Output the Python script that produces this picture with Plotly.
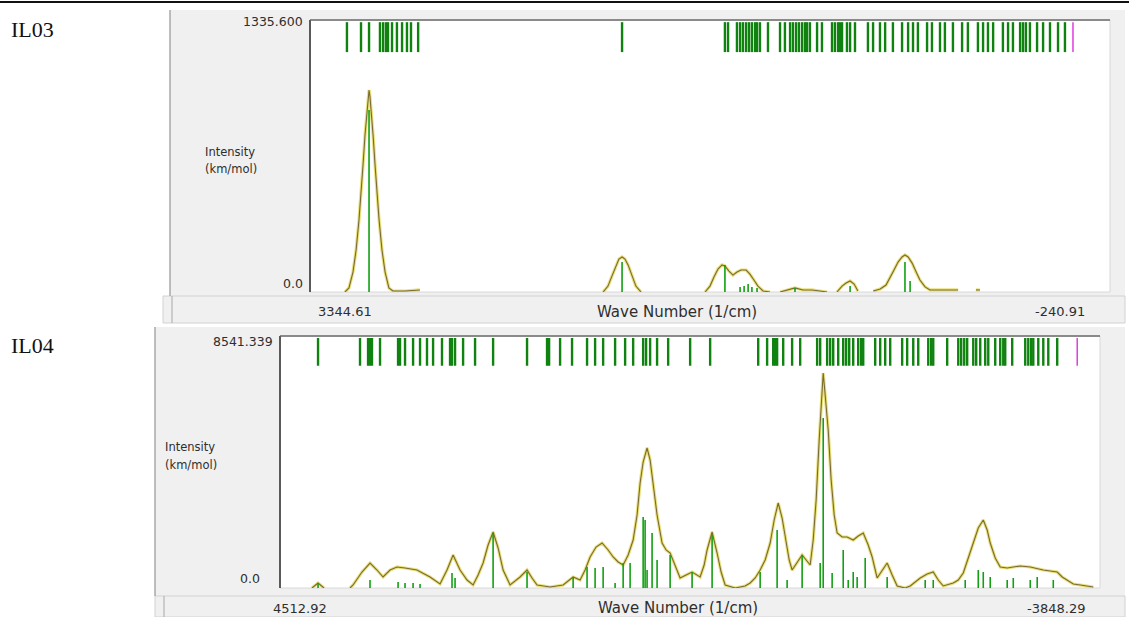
import plotly.graph_objects as go

W, H = 1129, 617

# ---------------- IL03 data ----------------
il03_x_range = [3344.61, -240.91]
il03_y_max = 1335.600
il03_modes = [3179, 3116, 3080, 3031, 3017, 3004, 2995, 2977, 2955, 2932, 2910, 2892, 2860,
              1946, 1485, 1471, 1431, 1417, 1404, 1390, 1377, 1364, 1350, 1341, 1328, 1292,
              1238, 1216, 1193, 1180, 1166, 1153, 1139, 1126, 1117, 1104, 1072, 1050, 1005,
              992, 978, 969, 960, 938, 924, 902, 844, 821, 790, 767, 732, 691, 664, 642, 620,
              579, 557, 521, 499, 463, 422, 396, 351, 328, 306, 283, 239, 216, 194, 162, 149,
              136, 118, 86, 59, 28, -8, -39]
il03_marker = [-75]
il03_stick_wn = [3080, 1946, 1485, 1417, 1399, 1381, 1364, 1341, 1171, 924, 678, 655]
il03_stick_int = [894, 147, 133, 25, 29, 39, 25, 20, 20, 29, 147, 54]
il03_curve_wn = [3188, 3170, 3152, 3138, 3125, 3116, 3107, 3098, 3089, 3085, 3080, 3076, 3071,
                 3062, 3053, 3044, 3035, 3022, 3008, 2991, 2973, 2919, 2852, None,
                 2031, 2009, 1991, 1973, 1960, 1946, 1933, 1919, 1901, 1884, 1861, None,
                 1574, 1552, 1534, 1516, 1498, 1485, 1467, 1449, 1431, 1413, 1390, 1373, 1355,
                 1337, 1314, 1283, None,
                 1238, 1207, 1171, 1135, 1095, 1059, 1027, None,
                 983, 960, 942, 924, 906, 889, None,
                 820, 789, 763, 745, 727, 709, 691, 678, 664, 646, 629, 611, 588, 566, 521, 440, None,
                 360, 342]
il03_curve_int = [0, 20, 98, 206, 354, 476, 624, 771, 903, 962, 992, 962, 903,
                  771, 624, 476, 354, 206, 98, 20, 5, 5, 10, None,
                  0, 29, 79, 133, 162, 172, 162, 133, 79, 29, 0, None,
                  0, 29, 74, 113, 133, 128, 103, 83, 98, 108, 108, 88, 59,
                  29, 5, 0, None,
                  0, 10, 20, 10, 10, 5, 0, None,
                  0, 29, 44, 54, 39, 5, None,
                  5, 15, 34, 69, 108, 147, 172, 182, 172, 142, 98, 59, 25, 10, 10, 10, None,
                  10, 10]

# ---------------- IL04 data ----------------
il04_x_range = [4512.92, -3848.29]
il04_y_max = 8541.339
il04_modes = [4125, 3697, 3615, 3595, 3575, 3493, 3309, 3289, 3238, 3156, 3085, 3014, 2952,
              2861, 2779, 2759, 2728, 2646, 2524, 2340, 1994, 1790, 1769, 1657, 1535, 1382,
              1300, 1218, 1096, 994, 912, 810, 780, 739, 668, 555, 331, 127, -363, -454, -516,
              -536, -556, -618, -709, -791, -964, -995, -1066, -1097, -1128, -1179, -1230,
              -1260, -1291, -1332, -1383, -1413, -1434, -1556, -1607, -1658, -1709, -1831,
              -1882, -1944, -1995, -2097, -2127, -2148, -2290, -2403, -2433, -2464, -2494,
              -2556, -2586, -2627, -2678, -2709, -2780, -2831, -2862, -2882, -2953, -3086,
              -3117, -3147, -3168, -3219, -3270, -3321, -3412]
il04_marker = [-3616]
il04_stick_wn = [4125, 3595, 3309, 3238, 3156, 3085, 2759, 2728, 2340, 1994, 1524, 1382, 1300,
                 1218, 1096, 1014, 943, 810, 790, 770, 719, 668, 535, 311, 107, -383, -556,
                 -658, -811, -995, -1026, -1117, -1230, -1281, -1332, -1372, -1454, -1678,
                 -2066, -2148, -2474, -2607, -2658, -2729, -2902, -2964, -3137, -3208, -3372]
il04_stick_int = [169, 271, 203, 169, 169, 136, 508, 339, 1864, 542, 373, 712, 678,
                  712, 169, 847, 847, 2406, 2305, 610, 1864, 949, 1118, 542, 1796, 542, 1966,
                  271, 1118, 847, 5761, 508, 1288, 271, 542, 373, 1017, 373,
                  271, 271, 271, 610, 542, 373, 271, 339, 271, 373, 271]
il04_curve_wn = [4187, 4125, 4064, None,
                 3799, 3768, 3677, 3595, 3524, 3462, 3391, 3320, 3238, 3116, 2983, 2881, 2810,
                 2748, 2677, 2606, 2544, 2493, 2442, 2391, 2340, 2289, 2238, 2167, 2065, 1994,
                 1943, 1892, 1759, 1626, 1524, 1453, 1402, 1351, 1290, 1229, 1167, 1116, 1065,
                 1014, 963, 912, 872, 841, 810, 770, 739, 708, 668, 617, 576, 535, 484, 433,
                 372, 311, 229, 188, 158, 107, 56, 15, -26, -128, -230, -281, -332, -383, -434,
                 -485, -526, -567, -607, -638, -679, -709, -760, -811, -852, -893, -924, -954,
                 -985, -1005, -1026, -1046, -1077, -1107, -1138, -1168, -1219, -1270, -1332,
                 -1383, -1434, -1485, -1525, -1576, -1627, -1678, -1729, -1780, -1862, -1913,
                 -2015, -2086, -2148, -2199, -2250, -2352, -2403, -2454, -2505, -2556, -2607,
                 -2658, -2698, -2729, -2780, -2831, -2902, -2964, -3035, -3137, -3208, -3270,
                 -3341, -3412, -3463, -3514, -3576, -3647, -3698, -3780]
il04_curve_int = [0, 169, 0, None,
                  0, 102, 542, 847, 610, 373, 610, 712, 678, 610, 373, 136, 610,
                  1118, 610, 271, 102, 441, 847, 1457, 1898, 1356, 610, 102, 373, 610,
                  339, 102, 34, 102, 373, 271, 610, 1051, 1389, 1525, 1288, 1051, 881,
                  779, 1118, 1627, 2474, 3558, 4270, 4745, 4338, 3558, 2474, 1525, 1288, 1186,
                  746, 339, 441, 542, 373, 779, 1288, 1898, 1186, 542, 102, 0, 68, 169, 339,
                  610, 949, 1525, 2305, 2881, 2372, 1728, 949, 610, 881, 1118, 949, 779, 1627,
                  2982, 5016, 6371, 7286, 6541, 5355, 3660, 2474, 1864, 1728, 1728, 1627,
                  1762, 1864, 1457, 1051, 339, 610, 847, 441, 68, 0, 68,
                  339, 474, 542, 271, 68, 169, 271, 508, 1017, 1525, 2033,
                  2305, 1966, 1525, 1017, 712, 678, 712, 746, 712, 644, 610,
                  576, 542, 373, 271, 136, 102, 68, 34]

panels = [
    dict(name="IL03", xr=il03_x_range, ymax=il03_y_max, modes=il03_modes, marker=il03_marker,
         sw=il03_stick_wn, si=il03_stick_int, cw=il03_curve_wn, ci=il03_curve_int,
         ymax_label="1335.600", left="3344.61", right="-240.91"),
    dict(name="IL04", xr=il04_x_range, ymax=il04_y_max, modes=il04_modes, marker=il04_marker,
         sw=il04_stick_wn, si=il04_stick_int, cw=il04_curve_wn, ci=il04_curve_int,
         ymax_label="8541.339", left="4512.92", right="-3848.29"),
]

# ---------------- layout geometry (pixels) ----------------
geo = [
    dict(panel=(170, 10, 1125, 296), bar=(163, 296, 1125, 323), plot=(310, 20, 1110, 292),
         label_y=30, ylab_x=203, ylab_y=(152, 169), ymax_xy=(305, 22), zero_xy=(305, 283),
         bar_text_y=312, left_x=345, mid_x=677, right_x=1087),
    dict(panel=(155, 327, 1125, 596), bar=(155, 596, 1125, 617), plot=(280, 336, 1100, 588),
         label_y=345, ylab_x=163, ylab_y=(447, 465), ymax_xy=(275, 342), zero_xy=(262, 578),
         bar_text_y=608, left_x=300, mid_x=678, right_x=1087),
]

def px(x):
    return x / W

def py(y):
    return 1 - y / H

GREEN_TICK = "#0f820f"
GREEN_STICK = "#12a012"
CURVE_HALO = "rgba(226,214,80,0.75)"
CURVE = "#7a6b32"
MAGENTA = "#e03ce0"
GRAY_BG = "#f0f0f0"
TXT = "#2e2e2e"
FONT = "DejaVu Sans"

fig = go.Figure()
shapes = []
annotations = []

# top rule
shapes.append(dict(type="line", xref="paper", yref="paper", x0=0, x1=1, y0=py(2), y1=py(2),
                   line=dict(color="#111111", width=2), layer="below"))

for i, (p, g) in enumerate(zip(panels, geo)):
    xa = "x" if i == 0 else "x2"
    ya = "y" if i == 0 else "y2"
    lo, hi = 0.882 * p["ymax"], 0.992 * p["ymax"]

    # mode ticks at top
    tx, ty = [], []
    for f in p["modes"]:
        tx += [f, f, None]
        ty += [lo, hi, None]
    fig.add_trace(go.Scatter(x=tx, y=ty, mode="lines", xaxis=xa, yaxis=ya,
                             line=dict(color=GREEN_TICK, width=2.4), hoverinfo="skip", showlegend=False))
    mx, my = [], []
    for f in p["marker"]:
        mx += [f, f, None]
        my += [lo, hi, None]
    fig.add_trace(go.Scatter(x=mx, y=my, mode="lines", xaxis=xa, yaxis=ya,
                             line=dict(color=MAGENTA, width=1.5), hoverinfo="skip", showlegend=False))
    # broadened curve
    fig.add_trace(go.Scatter(x=p["cw"], y=p["ci"], mode="lines", xaxis=xa, yaxis=ya,
                             line=dict(color=CURVE_HALO, width=3.2), connectgaps=False,
                             hoverinfo="skip", showlegend=False))
    fig.add_trace(go.Scatter(x=p["cw"], y=p["ci"], mode="lines", xaxis=xa, yaxis=ya,
                             line=dict(color=CURVE, width=1.1), connectgaps=False,
                             hoverinfo="skip", showlegend=False))
    # sticks
    sx, sy = [], []
    for f, v in zip(p["sw"], p["si"]):
        sx += [f, f, None]
        sy += [0, v, None]
    fig.add_trace(go.Scatter(x=sx, y=sy, mode="lines", xaxis=xa, yaxis=ya,
                             line=dict(color=GREEN_STICK, width=1.6), hoverinfo="skip", showlegend=False))

    x0, y0, x1, y1 = g["plot"]
    axx = dict(range=p["xr"], domain=[px(x0), px(x1)], visible=False, showgrid=False,
               zeroline=False, anchor=ya)
    axy = dict(range=[0, p["ymax"]], domain=[py(y1), py(y0)], visible=False, showgrid=False,
               zeroline=False, anchor=xa)
    if i == 0:
        fig.update_layout(xaxis=axx, yaxis=axy)
    else:
        fig.update_layout(xaxis2=axx, yaxis2=axy)

    # panel backgrounds
    a0, b0, a1, b1 = g["panel"]
    shapes.append(dict(type="rect", xref="paper", yref="paper", x0=px(a0), x1=px(a1),
                       y0=py(b1), y1=py(b0), fillcolor=GRAY_BG, line=dict(width=0), layer="below"))
    c0, d0, c1, d1 = g["bar"]
    shapes.append(dict(type="rect", xref="paper", yref="paper", x0=px(c0), x1=px(c1),
                       y0=py(d1), y1=py(d0), fillcolor=GRAY_BG,
                       line=dict(color="#d2d2d2", width=1), layer="below"))
    shapes.append(dict(type="line", xref="paper", yref="paper", x0=px(a0), x1=px(a0),
                       y0=py(b1), y1=py(b0), line=dict(color="#a8a8a8", width=1.5), layer="below"))
    shapes.append(dict(type="line", xref="paper", yref="paper", x0=px(c0 + 9), x1=px(c0 + 9),
                       y0=py(d1), y1=py(d0), line=dict(color="#a8a8a8", width=1), layer="below"))
    # plot area
    shapes.append(dict(type="rect", xref="paper", yref="paper", x0=px(x0), x1=px(x1),
                       y0=py(y1), y1=py(y0), fillcolor="white",
                       line=dict(color="#d8d8d8", width=1), layer="below"))
    shapes.append(dict(type="line", xref="paper", yref="paper", x0=px(x0), x1=px(x1),
                       y0=py(y0), y1=py(y0), line=dict(color="#8a8a8a", width=2), layer="below"))
    shapes.append(dict(type="line", xref="paper", yref="paper", x0=px(x0), x1=px(x0),
                       y0=py(y1), y1=py(y0), line=dict(color="#5a5a5a", width=2), layer="below"))

    # texts
    annotations.append(dict(text=p["name"], xref="paper", yref="paper", x=px(9), y=py(g["label_y"]),
                            xanchor="left", yanchor="middle", showarrow=False,
                            font=dict(family="Liberation Serif", size=22, color="#111111")))
    annotations.append(dict(text=p["ymax_label"], xref="paper", yref="paper", x=px(g["ymax_xy"][0]),
                            y=py(g["ymax_xy"][1]), xanchor="right", yanchor="middle", showarrow=False,
                            font=dict(family=FONT, size=12.5, color=TXT)))
    annotations.append(dict(text="0.0", xref="paper", yref="paper", x=px(g["zero_xy"][0]),
                            y=py(g["zero_xy"][1]), xanchor="right", yanchor="middle", showarrow=False,
                            font=dict(family=FONT, size=12.5, color=TXT)))
    annotations.append(dict(text="Intensity", xref="paper", yref="paper", x=px(g["ylab_x"]),
                            y=py(g["ylab_y"][0]), xanchor="left", yanchor="middle", showarrow=False,
                            font=dict(family=FONT, size=11.5, color=TXT)))
    annotations.append(dict(text="(km/mol)", xref="paper", yref="paper", x=px(g["ylab_x"]),
                            y=py(g["ylab_y"][1]), xanchor="left", yanchor="middle", showarrow=False,
                            font=dict(family=FONT, size=11.5, color=TXT)))
    annotations.append(dict(text=p["left"], xref="paper", yref="paper", x=px(g["left_x"]),
                            y=py(g["bar_text_y"]), xanchor="center", yanchor="middle", showarrow=False,
                            font=dict(family=FONT, size=13, color=TXT)))
    annotations.append(dict(text="Wave Number (1/cm)", xref="paper", yref="paper", x=px(g["mid_x"]),
                            y=py(g["bar_text_y"]), xanchor="center", yanchor="middle", showarrow=False,
                            font=dict(family=FONT, size=15, color=TXT)))
    annotations.append(dict(text=p["right"], xref="paper", yref="paper", x=px(g["right_x"]),
                            y=py(g["bar_text_y"]), xanchor="right", yanchor="middle", showarrow=False,
                            font=dict(family=FONT, size=13, color=TXT)))

fig.update_layout(width=W, height=H, margin=dict(l=0, r=0, t=0, b=0),
                  paper_bgcolor="white", plot_bgcolor="rgba(0,0,0,0)",
                  shapes=shapes, annotations=annotations, showlegend=False)

fig.write_html("out.html", config={"displayModeBar": False},
               post_script="document.body.style.margin='0px';document.body.style.overflow='hidden';")
